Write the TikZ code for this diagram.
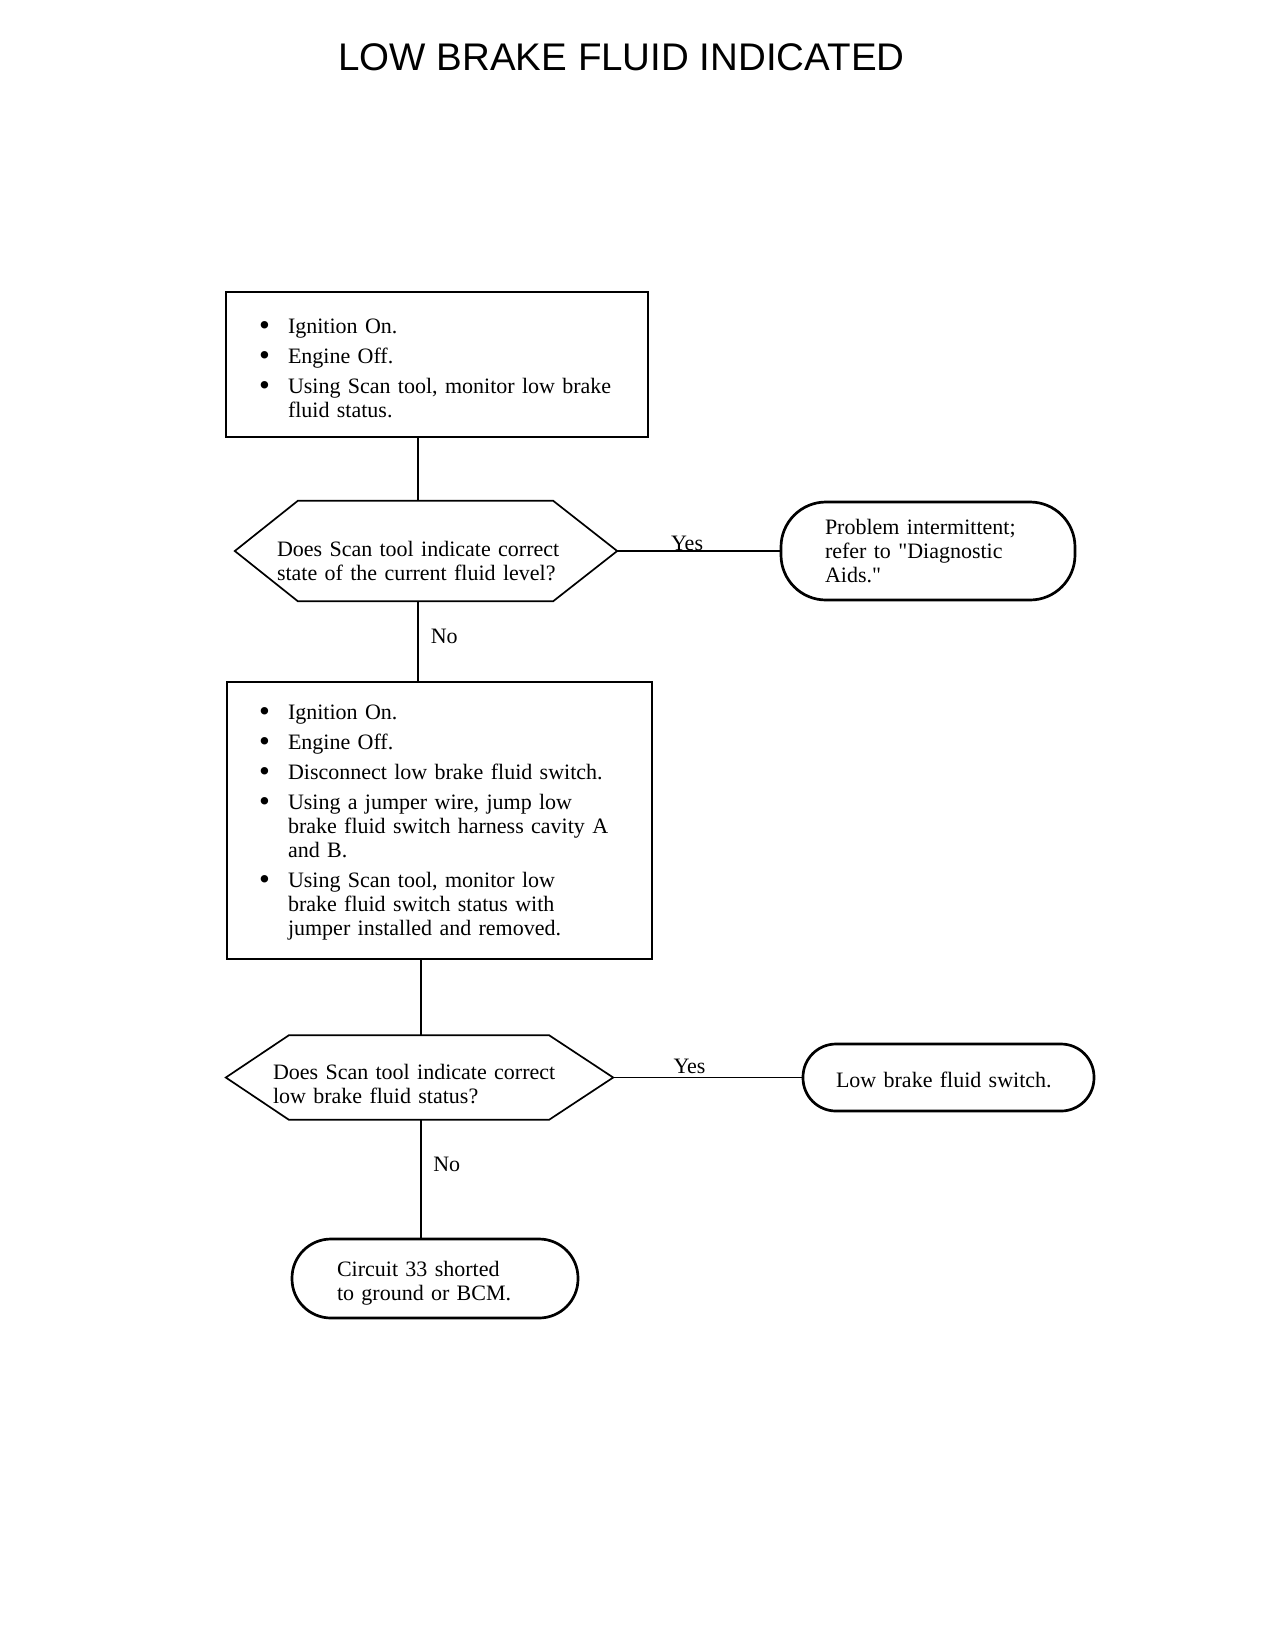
\documentclass[tikz,border=0pt]{standalone}
\usepackage{fontspec}
\setmainfont{Liberation Serif}[Ligatures=TeXOff]
\newfontfamily\titlefont{Liberation Sans}
\newcommand{\bitem}[1]{\par\hangindent=29pt\hangafter=1\noindent\makebox[29pt][l]{\hspace{0pt}\raisebox{-2pt}{\fontsize{31pt}{24pt}\selectfont\textbullet}}#1\par}
\begin{document}
\begin{tikzpicture}[x=1pt,y=-1pt,
  every node/.style={font=\fontsize{22pt}{24pt}\selectfont},
  stepbox/.style={draw, line width=1.9pt, rectangle, align=left, inner sep=0pt},
  hexnode/.style={rectangle, align=left, inner sep=0pt},
  hexline/.style={line width=1.7pt, line join=miter},
  term/.style={draw, line width=2.7pt, rectangle, align=left, inner sep=0pt},
  conn/.style={line width=1.5pt},
  lbl/.style={inner sep=0pt, font=\fontsize{22pt}{24pt}\selectfont}
]
\path[use as bounding box] (0,0) rectangle (1264,1626);

\node[inner sep=0pt, font=\titlefont\fontsize{38.5pt}{40pt}\selectfont] (title) at (621.5,57) {LOW BRAKE FLUID INDICATED};

% step box 1
\node[stepbox, minimum width=422pt, minimum height=145pt, text width=356pt] (b1) at (437,364.5)
 {\vspace*{-8pt}\setlength{\parskip}{6pt}%
  \bitem{Ignition On.}
  \bitem{Engine Off.}
  \bitem{Using Scan tool, monitor low brake\newline fluid status.}};

% decision 1
\node[hexnode, minimum width=382pt, minimum height=100pt, text width=298pt] (h1) at (426,551)
 {\rule{0pt}{36pt}Does Scan tool indicate correct\newline state of the current fluid level?};
\draw[hexline] (h1.west) -- ([xshift=63pt]h1.north west) -- ([xshift=-64pt]h1.north east) -- (h1.east)
  -- ([xshift=-64pt]h1.south east) -- ([xshift=63pt]h1.south west) -- cycle;

% terminator 1
\node[term, rounded corners=45pt, minimum width=294pt, minimum height=98pt, text width=206pt] (t1) at (928,551)
 {Problem intermittent;\newline refer to "Diagnostic\newline Aids."};

% step box 2
\node[stepbox, minimum width=425pt, minimum height=277pt, text width=361pt] (b2) at (439.5,820.5)
 {\vspace*{-12pt}\setlength{\parskip}{6pt}%
  \bitem{Ignition On.}
  \bitem{Engine Off.}
  \bitem{Disconnect low brake fluid switch.}
  \bitem{Using a jumper wire, jump low\newline brake fluid switch harness cavity A\newline and B.}
  \bitem{Using Scan tool, monitor low\newline brake fluid switch status with\newline jumper installed and removed.}};

% decision 2
\node[hexnode, minimum width=387pt, minimum height=84pt, text width=293pt] (h2) at (419.5,1077.5)
 {\rule{0pt}{28pt}Does Scan tool indicate correct\newline low brake fluid status?};
\draw[hexline] (h2.west) -- ([xshift=63pt]h2.north west) -- ([xshift=-64pt]h2.north east) -- (h2.east)
  -- ([xshift=-64pt]h2.south east) -- ([xshift=63pt]h2.south west) -- cycle;

% terminator 2
\node[term, rounded corners=33pt, minimum width=291pt, minimum height=67pt, text width=225pt] (t2) at (948.5,1077.5)
 {\rule{0pt}{21pt}Low brake fluid switch.};

% terminator 3
\node[term, rounded corners=39pt, minimum width=286pt, minimum height=79pt, text width=196pt] (t3) at (435,1278.5)
 {\rule{0pt}{25pt}Circuit 33 shorted\newline to ground or BCM.};

% connectors
\coordinate (s1) at (418,0);
\coordinate (s2) at (421,0);
\draw[conn] (b1.south -| s1) -- (h1.north -| s1);
\draw[conn] (h1.south -| s1) -- node[lbl, anchor=west, pos=0.44, xshift=12pt]{No} (b2.north -| s1);
\draw[conn] (h1.east) -- node[lbl, anchor=base, pos=0.43, yshift=1pt]{Yes} (t1.west);
\draw[conn] (b2.south -| s2) -- (h2.north -| s2);
\draw[conn] (h2.south -| s2) -- node[lbl, anchor=west, pos=0.38, xshift=11.5pt]{No} (t3.north -| s2);
\draw[conn] (h2.east) -- node[lbl, anchor=base, pos=0.405, yshift=4pt]{Yes} (t2.west);
\end{tikzpicture}
\end{document}
